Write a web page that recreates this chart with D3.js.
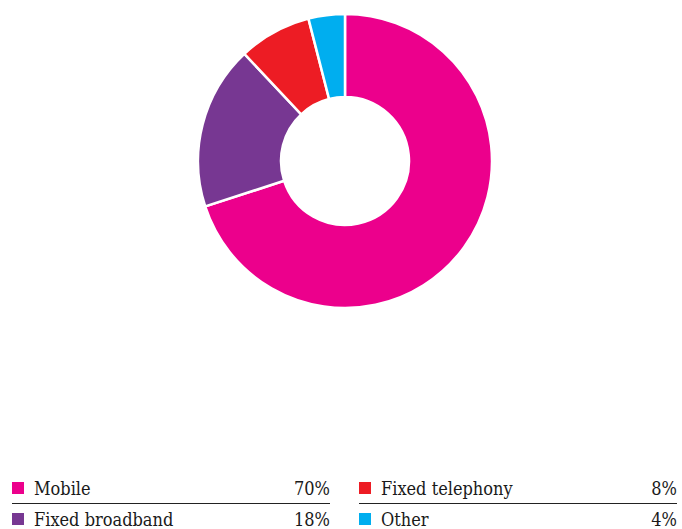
<!DOCTYPE html>
<html>
<head>
<meta charset="utf-8">
<script src="https://cdn.jsdelivr.net/npm/d3@7"></script>
<style>
  body { margin: 0; background: #fff; }
  svg text { font-family: "DejaVu Serif Condensed", "DejaVu Serif", serif; font-size: 18px; fill: #1a1a1a; }
</style>
</head>
<body>
<svg id="chart" width="682" height="529"></svg>
<script>
// shares of revenue by segment
var categories = ["Mobile", "Fixed broadband", "Fixed telephony", "Other"];
var shares = [70, 18, 8, 4];
var colours = ["#ec008c", "#773792", "#ed1c24", "#00aeef"];

var svg = d3.select("#chart");

var cx = 345, cy = 161, outerR = 147, innerR = 64;

var pie = d3.pie().sort(null).value(function (d) { return d; });
var arc = d3.arc().innerRadius(innerR).outerRadius(outerR);

var donut = svg.append("g").attr("transform", "translate(" + cx + "," + cy + ")");

donut.selectAll("path")
    .data(pie(shares))
    .enter().append("path")
    .attr("d", arc)
    .style("fill", function (d, i) { return colours[i]; })
    .style("stroke", "#fff")
    .style("stroke-width", 2.5);

// legend: two columns, two rows
var colX = d3.scaleOrdinal().domain([0, 1]).range([12, 359]);
var rowY = d3.scaleOrdinal().domain([0, 1]).range([495, 526]);
var colW = 318;

var items = svg.selectAll("g.legend")
    .data(categories)
    .enter().append("g")
    .attr("class", "legend")
    .attr("transform", function (d, i) {
        return "translate(" + colX(Math.floor(i / 2)) + "," + rowY(i % 2) + ")";
    });

items.append("rect")
    .attr("x", 0).attr("y", -13)
    .attr("width", 12).attr("height", 12)
    .style("fill", function (d, i) { return colours[i]; });

items.append("text")
    .attr("x", 22)
    .text(function (d) { return d; });

items.append("text")
    .attr("x", colW)
    .attr("text-anchor", "end")
    .text(function (d, i) { return shares[i] + "%"; });

items.filter(function (d, i) { return i % 2 === 0; })
    .append("line")
    .attr("x1", 0).attr("x2", colW)
    .attr("y1", 8.5).attr("y2", 8.5)
    .style("stroke", "#222")
    .style("stroke-width", 1);
</script>
</body>
</html>
